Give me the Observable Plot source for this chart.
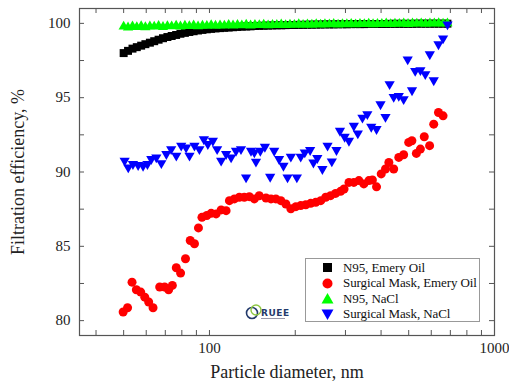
<!DOCTYPE html>
<html><head><meta charset="utf-8">
<script src="https://cdn.jsdelivr.net/npm/d3@7"></script>
<script src="https://cdn.jsdelivr.net/npm/@observablehq/plot@0.6"></script>
<style>
body{margin:0;background:#fff;}
#wrap{position:relative;width:509px;height:386px;font-family:"Liberation Serif","Times New Roman",serif;}
#legend{position:absolute;left:305px;top:258px;width:175px;height:64px;border:1px solid #999;background:#fff;box-sizing:border-box;padding-top:1px;}
#legend .row{display:flex;align-items:center;height:15.5px;font-size:13px;letter-spacing:-0.1px;color:#111;white-space:nowrap;}
#legend svg{margin-left:15px;margin-right:9px;flex:none;}
#logo{position:absolute;left:244px;top:303px;}
</style></head><body><div id="wrap"><div id="plot"></div>
<div id="legend"></div>
<svg id="logo" width="46" height="20"></svg>
</div>
<script>
// Shared SMPS channel diameters (nm) for the N95 series
const n95D = [50,51.8,53.7,55.6,57.6,59.6,61.8,64,66.3,68.7,71.2,73.7,76.4,79.1,82,85,88,91.2,94.5,97.9,
  101.4,105,108.9,112.8,116.8,121,125.4,129.9,134.6,139.4,144.4,149.6,155,160.6,166.4,172.3,178.6,185,191.6,198.5,
  205.7,213,220.7,228.7,236.9,245.4,254.2,263.4,272.8,282.7,292.8,303.4,314.3,325.6,337.3,349.4,362,375,388.5,402.5,
  417,432,447.5,463.6,480.3,497.5,515.4,534,553.2,573,593.6,615,637.1,660,683.7];
const n95OilE = [98.0,98.15,98.3,98.4,98.5,98.6,98.7,98.8,98.9,99.0,
  99.08,99.15,99.22,99.3,99.36,99.42,99.47,99.52,99.56,99.6,
  99.63,99.66,99.68,99.7,99.72,99.74,99.76,99.78,99.79,99.8,
  99.82,99.83,99.84,99.85,99.86,99.87,99.87,99.88,99.89,99.89,
  99.9,99.9,99.91,99.91,99.92,99.92,99.93,99.93,99.93,99.94,
  99.94,99.94,99.95,99.95,99.95,99.95,99.96,99.96,99.96,99.96,
  99.96,99.97,99.97,99.97,99.97,99.97,99.97,99.98,99.98,99.98,
  99.98,99.98,99.98,99.98,99.98];
const n95NaClE = [99.78,99.72,99.8,99.75,99.82,99.74,99.8,99.78,99.83,99.76,
  99.82,99.8,99.85,99.79,99.84,99.82,99.86,99.8,99.85,99.83,
  99.88,99.84,99.87,99.85,99.9,99.86,99.89,99.87,99.91,99.86,
  99.9,99.88,99.92,99.87,99.9,99.89,99.93,99.88,99.92,99.9,
  99.94,99.9,99.93,99.91,99.95,99.92,99.94,99.93,99.96,99.92,
  99.95,99.94,99.97,99.93,99.96,99.95,99.98,99.94,99.97,99.96,
  99.99,99.95,99.98,99.97,100.0,99.96,99.99,99.98,100.0,99.97,
  100.0,99.99,100.01,99.98,100.0];
const smOilD = [49.8,51.6,53.5,55.4,57.4,59.3,61.2,63.4,66.9,69.6,71.9,74.1,76.5,79.2,82.4,85.6,88.6,91.5,94.1,97.9,
  101.4,105.5,109.9,114.4,117.5,122.3,127.3,132.5,138,143.7,149.5,157.9,164.4,171,178,185.4,193,201,209,217.7,
  226.6,236,245.7,255.8,266,277,288.5,296.6,308.6,321,334.5,348,362.5,372.9,385.6,400.5,414.5,426,443,461.5,
  480,500,513,532,549.6,567,592,612,636,660];
const smOilE = [80.58,80.87,82.59,82.08,81.92,81.58,81.25,80.87,82.26,82.26,82.08,82.37,83.56,83.2,84.16,85.39,85.17,86.24,86.95,87.07,
  87.22,87.18,87.45,87.4,88.07,88.19,88.3,88.3,88.34,88.19,88.4,88.25,88.19,88.19,88.07,87.85,87.52,87.67,87.74,87.8,
  87.89,87.96,88.07,88.3,88.41,88.56,88.7,88.86,89.3,89.3,89.42,89.2,89.42,89.46,89.0,89.87,90.2,90.64,90.2,90.98,
  91.16,91.99,92.1,91.25,91.54,92.37,91.77,93.22,94.0,93.78];
const smNaClD = [50.4,51.9,53.9,56.2,58.5,60.6,62.5,65.1,67.8,70.6,73.4,76.5,79.6,82.8,85.1,88.6,92.2,95.6,98.7,102.8,
  106.4,109.9,114.4,119.1,123.9,129,134.4,139.9,143.7,145.6,150.8,156.5,163.3,168.7,175.5,181.8,187.9,193,202.6,209,
  216,225.5,231.6,239,249,259.6,268.7,279,287,298,308.6,321,331.5,344.1,358,369.5,385.6,398.2,414.5,428.6,
  443,461.5,480,496,513.6,527,549.6,571.8,593,612.2,636,660,684];
const smNaClE = [90.76,90.31,90.54,90.47,90.42,90.54,90.87,90.98,90.6,91.21,91.54,91.1,91.77,91.65,91.1,91.77,91.54,92.2,91.88,92.1,
  91.54,90.76,91.21,90.98,91.43,91.54,89.64,91.43,91.32,90.7,91.43,91.7,89.68,91.43,90.87,90.42,89.64,91.03,89.64,91.03,
  91.32,91.48,90.64,90.94,90.2,91.77,90.71,91.48,92.77,92.37,92.1,93.11,92.6,93.66,93.89,93.04,92.89,94.56,93.71,95.91,
  95.05,95.12,94.9,97.58,95.5,96.8,96.85,96.58,97.92,96.17,98.59,98.99,99.93];

const seriesNames = ["N95, Emery Oil","Surgical Mask, Emery Oil","N95, NaCl","Surgical Mask, NaCl"];
const seriesColors = ["#000000","#ff0000","#00ff00","#0000ff"];
const xTicks = [40,50,60,70,80,90,100,200,300,400,500,600,700,800,900,1000];
const xLabelTicks = [100,1000];
const yTicks = [80,82.5,85,87.5,90,92.5,95,97.5,100];
const yLabelTicks = [80,85,90,95,100];

const triangleDown = {draw(context, size){
  const y = -Math.sqrt(size/(Math.sqrt(3)*3));
  context.moveTo(0,-y*2); context.lineTo(-Math.sqrt(3)*y, y); context.lineTo(Math.sqrt(3)*y, y); context.closePath();
}};

const zipS = (D,E) => D.map((d,i)=>({d, e:E[i]}));
const black = zipS(n95D, n95OilE), green = zipS(n95D, n95NaClE);
const red = zipS(smOilD, smOilE), blue = zipS(smNaClD, smNaClE);

const W = 509, H = 386, mL = 79, mR = 15, mT = 8, mB = 51;
const fw = W - mL - mR, fh = H - mT - mB, tl = 5;
const frameColor = "#555";
const font = "'Liberation Serif', 'Times New Roman', serif";
const chart = Plot.plot({
  width: W, height: H,
  marginLeft: mL, marginRight: mR, marginTop: mT, marginBottom: mB,
  style: {fontFamily: font, fontSize: "15px", color: "#222", background: "#fff", overflow: "visible"},
  x: {type: "log", domain: [35, 1000]},
  y: {domain: [79, 101]},
  marks: [
    Plot.tickX(xTicks, {x: d => d, insetTop: fh - tl, stroke: frameColor}),
    Plot.tickX(xTicks, {x: d => d, insetBottom: fh - tl, stroke: frameColor}),
    Plot.tickY(yTicks, {y: d => d, insetRight: fw - tl, stroke: frameColor}),
    Plot.tickY(yTicks, {y: d => d, insetLeft: fw - tl, stroke: frameColor}),
    Plot.axisX({ticks: xLabelTicks, tickSize: 0, tickPadding: 7, tickFormat: d => String(d), fontSize: 15, label: null}),
    Plot.axisY({ticks: yLabelTicks, tickSize: 0, tickPadding: 9, fontSize: 15, label: null}),
    Plot.dot(black, {x: "d", y: "e", symbol: "square", r: 4.5, fill: seriesColors[0]}),
    Plot.dot(green, {x: "d", y: "e", symbol: "triangle", r: 3.8, fill: seriesColors[2]}),
    Plot.dot(red, {x: "d", y: "e", symbol: "circle", r: 4.5, fill: seriesColors[1]}),
    Plot.dot(blue, {x: "d", y: "e", symbol: triangleDown, r: 3.8, fill: seriesColors[3]}),
    Plot.frame({stroke: frameColor, strokeWidth: 1.2}),
    Plot.text(["Particle diameter, nm"], {frameAnchor: "bottom", dy: 42, fontSize: 18, fill: "#222"}),
    Plot.text(["Filtration efficiency, %"], {frameAnchor: "left", textAnchor: "middle", rotate: -90, dx: -61, fontSize: 18, fill: "#222"})
  ]
});
document.getElementById("plot").appendChild(chart);

// Legend
const sym = [
  '<rect x="2" y="2" width="9" height="9" fill="#000"/>',
  '<circle cx="6.5" cy="6.5" r="5" fill="#ff0000"/>',
  '<path d="M6.5 1 L12.5 11.5 L0.5 11.5 Z" fill="#00ff00"/>',
  '<path d="M0.5 1.5 L12.5 1.5 L6.5 12 Z" fill="#0000ff"/>'
];
const lg = document.getElementById("legend");
seriesNames.forEach((n,i)=>{
  const row = document.createElement("div"); row.className="row";
  row.innerHTML = `<svg width="13" height="13">${sym[i]}</svg><span>${n}</span>`;
  lg.appendChild(row);
});
// Logo
document.getElementById("logo").innerHTML =
 '<circle cx="8" cy="10" r="5.5" fill="none" stroke="#233a6b" stroke-width="1.6"/>'+
 '<circle cx="12" cy="7" r="5" fill="none" stroke="#8dc63f" stroke-width="1.4"/>'+
 '<text x="17" y="13" font-family="DejaVu Sans" font-weight="bold" font-size="9" fill="#233a6b" letter-spacing="0.5">RUEE</text>'+
 '<rect x="17" y="15" width="24" height="1" fill="#99a"/>';
</script>
</body></html>
